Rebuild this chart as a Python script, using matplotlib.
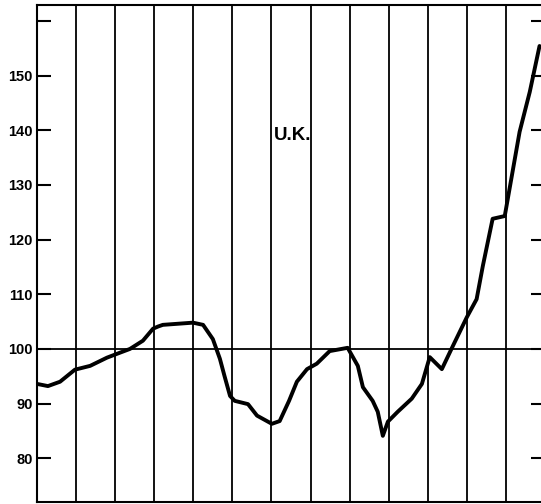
import matplotlib
matplotlib.use("Agg")
import matplotlib.pyplot as plt

# Data (x in grid-column units, y index value)
x_pos = [0.00, 0.28, 0.59, 0.97, 1.36, 1.79, 2.12, 2.38, 2.71, 2.97, 3.10, 3.22, 3.99, 4.25, 4.50,
         4.68, 4.80, 4.94, 5.06, 5.40, 5.63, 6.01, 6.21, 6.45, 6.65, 6.91, 7.16, 7.49, 7.95,
         8.21, 8.34, 8.59, 8.72, 8.85, 8.98, 9.23, 9.59, 9.85, 10.05, 10.36, 10.64,
         11.00, 11.25, 11.41, 11.66, 11.97, 12.15, 12.35, 12.61, 12.86]
values = [93.6, 93.2, 94.0, 96.2, 96.9, 98.4, 99.3, 100.0, 101.5, 103.7, 104.1, 104.4, 104.8, 104.4, 101.8,
          98.2, 95.0, 91.4, 90.5, 89.9, 87.8, 86.3, 86.8, 90.5, 94.0, 96.3, 97.3, 99.6, 100.2,
          96.9, 93.0, 90.5, 88.5, 84.1, 86.7, 88.5, 90.9, 93.6, 98.5, 96.3, 100.5,
          105.8, 109.1, 115.2, 123.8, 124.3, 131.6, 139.7, 147.0, 155.4]
ytick_vals = [80, 90, 100, 110, 120, 130, 140, 150, 160]
ytick_labels = ['80', '90', '100', '110', '120', '130', '140', '150', '']
grid_cols = list(range(1, 13))
label_text = "U.K."

W, H = 541, 504
fig = plt.figure(figsize=(W / 100, H / 100), dpi=100)
ax = fig.add_axes([37 / W, 2 / H, (545 - 37) / W, (503 - 6) / H])
ax.set_xlim(0, 13)
ax.set_ylim(72.0, 162.9)

for c in grid_cols:
    ax.axvline(c, color='black', lw=1.3, zorder=1)
ax.axhline(100, color='black', lw=1.3, zorder=1)

ax.plot(x_pos, values, color='black', lw=2.8, solid_joinstyle='round',
        solid_capstyle='round', zorder=3)

for s in ['left', 'top', 'bottom']:
    ax.spines[s].set_linewidth(1.5)
ax.spines['right'].set_visible(False)

ax.set_xticks([])
ax.set_yticks(ytick_vals)
ax.set_yticklabels(ytick_labels, fontfamily='Liberation Sans', fontsize=10.5,
                   fontweight='bold')
ax.tick_params(axis='y', direction='in', length=10, width=1.5, left=True,
               right=True, pad=3)

ax.text(6.55, 139.1, label_text, fontfamily='Liberation Sans', fontsize=13.5,
        fontweight='bold', ha='center', va='center')

fig.savefig('out.png', dpi=100)
